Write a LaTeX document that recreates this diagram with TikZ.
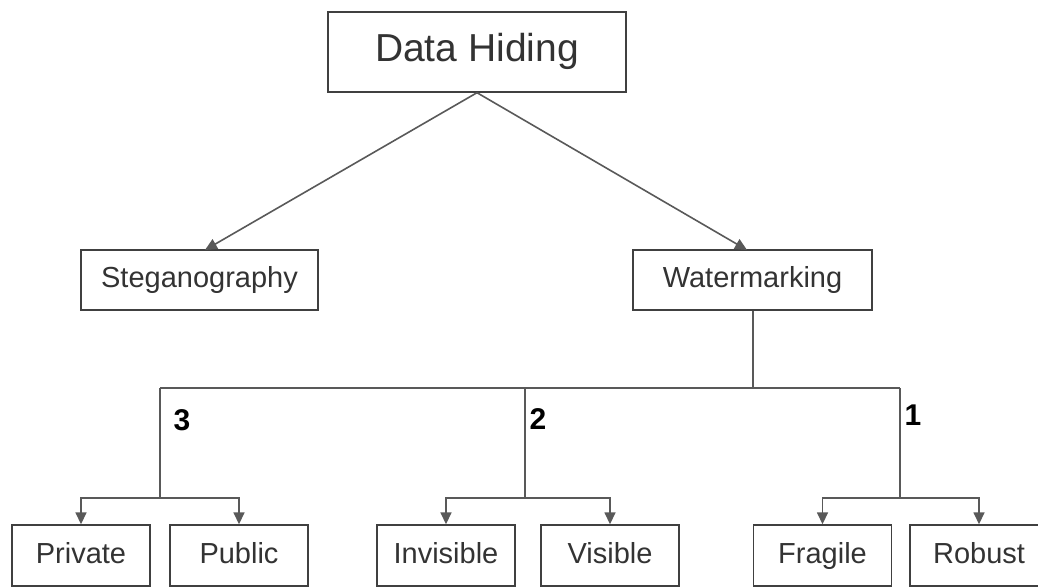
\documentclass[tikz,border=0pt]{standalone}
\usepackage{fontspec}
\setmainfont{Liberation Sans}
\usetikzlibrary{arrows.meta}
\tikzset{
  box/.style={draw=black!75, line width=1.4pt, text=black!80, inner sep=0pt,
    font=\fontsize{29}{34}\selectfont, text height=21pt, text depth=6pt},
  leafbox/.style={box, minimum width=138pt, minimum height=61pt},
  conn/.style={draw=black!65, line width=1.6pt},
  arr/.style={conn, -{Triangle[width=11pt,length=12pt]}},
  num/.style={font=\fontsize{30}{34}\selectfont\bfseries, text=black, inner sep=0pt}
}
\begin{document}
\begin{tikzpicture}[x=1pt,y=-1pt]
\useasboundingbox (0,0) rectangle (1038,588);
% top
\node[box, minimum width=298pt, minimum height=80pt, font=\fontsize{39}{46}\selectfont, text height=28pt, text depth=8pt] (dh) at (477,52) {Data Hiding};
\node[box, minimum width=237pt, minimum height=60pt] (st) at (199.5,280) {Steganography};
\node[box, minimum width=239pt, minimum height=60pt] (wm) at (752.5,280) {Watermarking};
\draw[arr] (dh.south) -- (205,250);
\draw[arr] (dh.south) -- (747,250);
% leaves
\node[leafbox] (pri) at (81,555.5) {Private};
\node[leafbox] (pub) at (239,555.5) {Public};
\node[leafbox] (inv) at (446,555.5) {Invisible};
\node[leafbox] (vis) at (610,555.5) {Visible};
\node[leafbox] (fra) at (822.5,555.5) {Fragile};
\node[leafbox] (rob) at (979,555.5) {Robust};
% junctions
\coordinate (j0) at (753,388);
\coordinate (j3) at (160,388);
\coordinate (j2) at (525,388);
\coordinate (j1) at (900,388);
\coordinate (k3) at (160,498);
\coordinate (k2) at (525,498);
\coordinate (k1) at (900,498);
\draw[conn] (wm.south -| j0) -- (j0);
\draw[conn] (j3) -- (j1);
\draw[conn] (j3) -- (k3);
\draw[conn] (j2) -- (k2);
\draw[conn] (j1) -- (k1);
\draw[arr] (k3) -| (pri.north);
\draw[arr] (k3) -| (pub.north);
\draw[arr] (k2) -| (inv.north);
\draw[arr] (k2) -| (vis.north);
\draw[arr] (k1) -| (fra.north);
\draw[arr] (k1) -| (rob.north);
% labels
\node[num] (n3) at (182,420) {3};
\node[num] (n2) at (538,419) {2};
\node[num] (n1) at (913,415) {1};
\end{tikzpicture}
\end{document}
